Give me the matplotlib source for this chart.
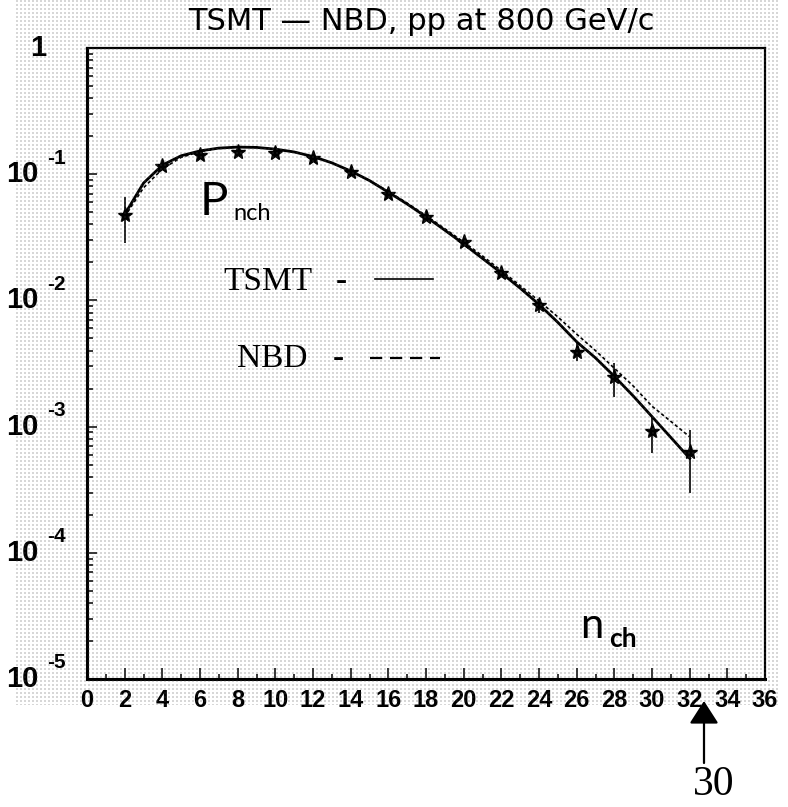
import numpy as np
import matplotlib
matplotlib.use("Agg")
import matplotlib.pyplot as plt
import matplotlib.transforms as mtransforms
from matplotlib.lines import Line2D

# measured multiplicity distribution, pp at 800 GeV/c
n_ch = [2, 4, 6, 8, 10, 12, 14, 16, 18, 20, 22, 24, 26, 28, 30, 32]
p_nch = [0.0475, 0.116, 0.142, 0.150, 0.147, 0.134, 0.104, 0.0697,
         0.0458, 0.029, 0.0165, 0.0092, 0.0039, 0.00247, 0.00092, 0.00063]
p_hi = [0.066, 0.116, 0.142, 0.150, 0.147, 0.134, 0.104, 0.0697,
        0.0458, 0.029, 0.0165, 0.0100, 0.0048, 0.00319, 0.00119, 0.00094]
p_lo = [0.0285, 0.116, 0.142, 0.150, 0.147, 0.134, 0.104, 0.0697,
        0.0458, 0.029, 0.0165, 0.0080, 0.0033, 0.00172, 0.00062, 0.0003]

# model curves
n_fit = list(range(2, 33))
tsmt = [0.048, 0.085, 0.118, 0.140, 0.153, 0.161, 0.164, 0.163, 0.158,
        0.150, 0.138, 0.123, 0.106, 0.089, 0.072, 0.058, 0.046, 0.036,
        0.028, 0.0215, 0.0165, 0.0125, 0.0093, 0.0067, 0.0047, 0.0035,
        0.0025, 0.00175, 0.0012, 0.00082, 0.00056]
nbd = [0.046, 0.078, 0.110, 0.136, 0.151, 0.160, 0.164, 0.163, 0.158,
       0.150, 0.138, 0.123, 0.106, 0.089, 0.073, 0.059, 0.047, 0.037,
       0.029, 0.0225, 0.0172, 0.0131, 0.0099, 0.0074, 0.0054, 0.0040,
       0.0029, 0.0021, 0.00145, 0.00110, 0.00083]

x_ticks = list(range(0, 37, 2))
y_ticks = [1e-5, 1e-4, 1e-3, 1e-2, 1e-1]
y_exponents = ["-5", "-4", "-3", "-2", "-1"]

W, H = 788, 807
fig = plt.figure(figsize=(W / 100, H / 100), dpi=100)


def px(x, y):
    return x / W, 1 - y / H


# halftone screen of the printed page
tex = np.zeros((H, W, 4))
yy, xx = np.mgrid[0:H, 0:W]
dots = (yy % 4 < 2) & (xx % 4 < 2) & (yy < 705) & (xx > 14) & (xx < 780)
tex[dots] = [0.3, 0.3, 0.3, 0.22]
fig.figimage(tex, xo=0, yo=0, origin="upper", zorder=0)

ax = fig.add_axes([87 / W, 1 - 679 / H, 678 / W, 631 / H])
ax.set_facecolor("none")

ax.plot(n_fit, nbd, color="black", lw=1.2, ls=(0, (2, 1.5)), zorder=2)
ax.plot(n_fit, tsmt, color="black", lw=2.0, zorder=3)

yerr = [np.array(p_nch) - np.array(p_lo), np.array(p_hi) - np.array(p_nch)]
ax.errorbar(n_ch, p_nch, yerr=yerr, fmt="*", color="black", ms=11,
            elinewidth=1.2, capsize=0, zorder=4)

ax.set_yscale("log")
ax.set_xlim(0, 36)
ax.set_ylim(1e-5, 1)
ax.set_xticks(x_ticks)
ax.set_xticklabels([str(t) for t in x_ticks], fontsize=17, fontweight="bold",
                   family="Liberation Sans")
ax.set_xticks(range(1, 36, 2), minor=True)
ax.set_yticks(y_ticks + [1])
ax.set_yticklabels([])
ax.tick_params(axis="x", which="major", direction="in", length=8, width=1.1, pad=7)
ax.tick_params(axis="x", which="minor", direction="in", length=3.5, width=1.1)
ax.tick_params(axis="y", which="major", direction="in", length=7, width=1.1)
ax.tick_params(axis="y", which="minor", direction="in", length=4, width=1.1)
ax.yaxis.set_minor_formatter(plt.NullFormatter())
for side in ["left", "bottom"]:
    ax.spines[side].set_linewidth(2.2)
for side in ["top", "right"]:
    ax.spines[side].set_linewidth(1.6)

# decade labels: "10" with the exponent set up and to the right
ylab = mtransforms.blended_transform_factory(fig.transFigure, ax.transData)
for val, ex in zip(y_ticks, y_exponents):
    t = ax.text(39 / W, val, "10", transform=ylab, fontsize=21, fontweight="bold",
                family="Liberation Sans", ha="right", va="center")
    t = ax.text(47 / W, val, ex, transform=ylab + mtransforms.ScaledTranslation(0, 16 / 100, fig.dpi_scale_trans),
                fontsize=15, fontweight="bold", family="Liberation Sans",
                ha="left", va="center")
ax.text(46 / W, 1, "1", transform=ylab, fontsize=21, fontweight="bold",
        family="Liberation Sans", ha="right", va="center")

fig.text(*px(421, 21), "TSMT \u2014 NBD, pp at 800 GeV/c", fontsize=22,
         family="DejaVu Sans", ha="center", va="center")

# labels inside the frame
fig.text(*px(200, 215), "P", fontsize=34, family="Lato",
         ha="left", va="baseline")
fig.text(*px(233, 220), "nch", fontsize=17, family="Lato",
         ha="left", va="baseline")
fig.text(*px(580, 638), "n", fontsize=30, family="Lato",
         ha="left", va="baseline")
fig.text(*px(609, 647), "ch", fontsize=19, family="Lato", fontweight="bold",
         ha="left", va="baseline")

fig.text(*px(223, 290), "TSMT", fontsize=24, family="Liberation Serif",
         ha="left", va="baseline")
fig.text(*px(336, 290), "-", fontsize=24, family="Liberation Serif",
         fontweight="bold", ha="left", va="baseline")
fig.lines.append(Line2D([375 / W, 433 / W], [1 - 279 / H] * 2, color="black",
                        lw=1.2, transform=fig.transFigure))

fig.text(*px(237, 367), "NBD", fontsize=24, family="Liberation Serif",
         ha="left", va="baseline")
fig.text(*px(333, 367), "-", fontsize=24, family="Liberation Serif",
         fontweight="bold", ha="left", va="baseline")
fig.lines.append(Line2D([370 / W, 440 / W], [1 - 358 / H] * 2, color="black",
                        lw=1.6, ls=(0, (5.5, 3.5)), transform=fig.transFigure))

# arrow pointing at the last bin
fig.add_artist(matplotlib.patches.FancyArrowPatch(
    px(704, 763), px(704, 701), transform=fig.transFigure,
    arrowstyle="-|>,head_length=0.7,head_width=0.45", mutation_scale=20,
    color="black", lw=1.6, shrinkA=0, shrinkB=0))
fig.text(*px(714, 785), "30", fontsize=30, family="Liberation Serif",
         ha="center", va="center")

fig.savefig("out.png", dpi=100)
